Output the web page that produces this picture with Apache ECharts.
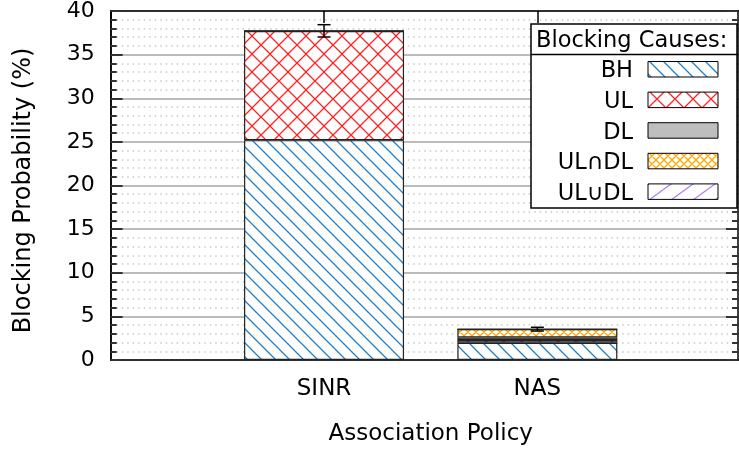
<!DOCTYPE html>
<html>
<head>
<meta charset="utf-8">
<script src="https://cdn.jsdelivr.net/npm/echarts@6/dist/echarts.min.js"></script>
<style>
  html, body { margin: 0; padding: 0; background: #fff; }
  #chart { width: 739px; height: 459px; }
</style>
</head>
<body>
<div id="chart"></div>
<script>
(function () {
    'use strict';

    // data
    var policies = ['SINR', 'NAS'];
    var causes = ['BH', 'UL', 'DL', 'UL\u2229DL', 'UL\u222aDL'];
    var bhValues = [25.2, 1.98];
    var ulValues = [12.5, 0.31];
    var dlValues = [0, 0.30];
    var ulAndDlValues = [0, 0.95];
    var ulOrDlValues = [0, 0];
    var errLow = [37.02, 3.32];
    var errHigh = [38.43, 3.75];

    var FONT = 'DejaVu Sans';

    // empty slot on each side, like the gnuplot xrange
    var slots = [''].concat(policies, ['']);
    function padded(list) { return [null].concat(list, [null]); }

    // little canvas tiles for the gnuplot-like fill patterns
    function tile(w, h, color, paint) {
        var c = document.createElement('canvas');
        c.width = w;
        c.height = h;
        var ctx = c.getContext('2d');
        ctx.fillStyle = '#fff';
        ctx.fillRect(0, 0, w, h);
        ctx.strokeStyle = color;
        ctx.lineWidth = 1.25;
        ctx.beginPath();
        paint(ctx, w, h);
        ctx.stroke();
        return { image: c, repeat: 'repeat' };
    }
    function back(ctx, w, h) {   // "\" lines
        ctx.moveTo(-2, -2 * h / w); ctx.lineTo(w + 2, h + 2 * h / w);
        ctx.moveTo(w - 2, -2 * h / w); ctx.lineTo(w + 2, 2 * h / w);
        ctx.moveTo(-2, h - 2 * h / w); ctx.lineTo(2, h + 2 * h / w);
    }
    function fwd(ctx, w, h) {    // "/" lines
        ctx.moveTo(-2, h + 2 * h / w); ctx.lineTo(w + 2, -2 * h / w);
        ctx.moveTo(-2, 2 * h / w); ctx.lineTo(2, -2 * h / w);
        ctx.moveTo(w - 2, h + 2 * h / w); ctx.lineTo(w + 2, h - 2 * h / w);
    }
    function cross(ctx, w, h) { back(ctx, w, h); fwd(ctx, w, h); }

    var fills = [
        tile(14, 14, '#1a7fd0', back),
        tile(18, 18, '#ff2020', cross),
        '#bebebe',
        tile(8, 8, '#ffa500', cross),
        tile(22, 16, '#b080f0', fwd)
    ];
    var valueLists = [bhValues, ulValues, dlValues, ulAndDlValues, ulOrDlValues];

    var series = causes.map(function (name, i) {
        return {
            name: name,
            type: 'bar',
            stack: 'total',
            barWidth: 160,
            itemStyle: { color: fills[i], borderColor: '#222', borderWidth: 1.2 },
            data: padded(valueLists[i])
        };
    });

    series.push({
        name: 'err',
        type: 'custom',
        z: 5,
        data: policies.map(function (p, k) { return [k + 1, errLow[k], errHigh[k]]; }),
        renderItem: function (params, api) {
            var lo = api.coord([api.value(0), api.value(1)]);
            var hi = api.coord([api.value(0), api.value(2)]);
            var st = { stroke: '#000', lineWidth: 1.5 };
            return {
                type: 'group',
                children: [
                    { type: 'line', shape: { x1: lo[0], y1: lo[1], x2: hi[0], y2: hi[1] }, style: st },
                    { type: 'line', shape: { x1: lo[0] - 6.5, y1: lo[1], x2: lo[0] + 6.5, y2: lo[1] }, style: st },
                    { type: 'line', shape: { x1: hi[0] - 6.5, y1: hi[1], x2: hi[0] + 6.5, y2: hi[1] }, style: st }
                ]
            };
        }
    });

    // key box drawn by hand, gnuplot style
    var keyX = 531, keyY = 24, keyW = 206, keyH = 184;
    var keyFont = '22.5px "' + FONT + '"';
    var graphic = [
        { type: 'rect', shape: { x: keyX, y: keyY, width: keyW, height: keyH },
          style: { fill: '#fff', stroke: '#000', lineWidth: 1.5 }, z: 10 },
        { type: 'line', shape: { x1: keyX, y1: 54.5, x2: keyX + keyW, y2: 54.5 },
          style: { stroke: '#000', lineWidth: 1.5 }, z: 11 },
        { type: 'text', x: 536, y: 41, z: 11,
          style: { text: 'Blocking Causes:', font: keyFont, fill: '#000',
                   textAlign: 'left', textVerticalAlign: 'middle' } }
    ];
    causes.forEach(function (name, i) {
        var cy = 71.5 + i * 30.6;
        graphic.push({ type: 'text', x: 633, y: cy, z: 11,
            style: { text: name, font: keyFont, fill: '#000',
                     textAlign: 'right', textVerticalAlign: 'middle' } });
        graphic.push({ type: 'rect', z: 11,
            shape: { x: 648, y: cy - 10, width: 70, height: 15.5 },
            style: { fill: fills[i], stroke: '#000', lineWidth: 1 } });
    });

    var border = { onZero: false, lineStyle: { color: '#000', width: 1.5 } };
    var majorTick = { show: true, inside: true, length: 12, lineStyle: { color: '#333', width: 2 } };
    var minorTick = { show: true, splitNumber: 5, length: 6, lineStyle: { color: '#333', width: 2 } };

    // tick-only axis so the ticks sit above the grid lines
    function tickAxis(pos, offset) {
        return {
            type: 'value', position: pos, offset: offset, min: 0, max: 40, interval: 5, z: 3,
            axisLine: Object.assign({ show: true }, border),
            axisTick: majorTick, minorTick: minorTick,
            splitLine: { show: false },
            axisLabel: { show: false }
        };
    }

    var option = {
        animation: false,
        grid: { left: 110.7, top: 11, width: 640, bottom: 99, containLabel: false, outerBoundsMode: 'none' },
        xAxis: [{
            type: 'category', data: slots, boundaryGap: false,
            name: 'Association Policy', nameLocation: 'middle', nameGap: 63,
            nameTextStyle: { fontFamily: FONT, fontSize: 23, color: '#000' },
            axisLine: border,
            axisTick: { show: false },
            splitLine: { show: false },
            axisLabel: { margin: 18, interval: 0, fontFamily: FONT, fontSize: 23, color: '#000' }
        }, {
            type: 'category', data: slots, boundaryGap: false, position: 'top',
            axisLine: border,
            axisTick: { inside: true, length: 12, interval: 0, lineStyle: { color: '#000', width: 1.5 } },
            splitLine: { show: false },
            axisLabel: { show: false }
        }],
        yAxis: [{
            type: 'value', min: 0, max: 40, interval: 5,
            name: 'Blocking Probability (%)', nameLocation: 'middle', nameGap: 75,
            nameTextStyle: { fontFamily: FONT, fontSize: 24, color: '#000', padding: [0, 10, 0, 0] },
            axisLine: Object.assign({ show: true }, border),
            axisTick: { show: false },
            splitLine: { show: true, lineStyle: { color: '#bcbcbc', width: 2 } },
            minorSplitLine: { show: true, lineStyle: { color: '#c8c8c8', width: 1.5, type: [1.5, 4] } },
            axisLabel: { margin: 16, fontFamily: FONT, fontSize: 22, color: '#000' }
        }, tickAxis('right', -12.7), tickAxis('left', 0)],
        graphic: graphic,
        series: series
    };

    var chart = echarts.init(document.getElementById('chart'));
    chart.setOption(option);
})();
</script>
</body>
</html>
